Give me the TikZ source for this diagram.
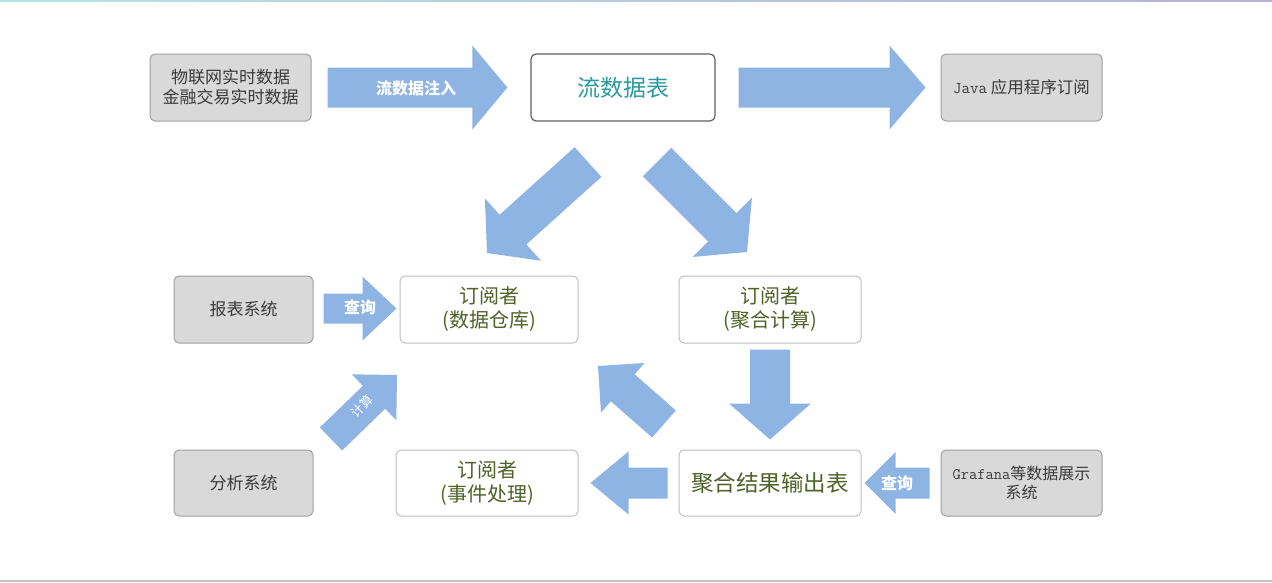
\documentclass[tikz,border=0pt]{standalone}
\usepackage{fontspec}
\setmainfont{Noto Sans CJK SC}
\usetikzlibrary{calc}
\definecolor{arrowblue}{HTML}{8EB4E3}
\definecolor{grayfill}{HTML}{D9D9D9}
\definecolor{grayline}{HTML}{A0A0A0}
\definecolor{lightline}{HTML}{BFBFBF}
\definecolor{darkline}{HTML}{606060}
\definecolor{graytext}{HTML}{3A3A3A}
\definecolor{tealtext}{HTML}{2A9A9E}
\definecolor{olivetext}{HTML}{4F6228}
\definecolor{topA}{HTML}{B2E6E4}
\definecolor{topB}{HTML}{B8B0D6}
\definecolor{bottomline}{HTML}{C4C4C4}
\newcommand\blockarr[5]{%
  \coordinate (#1b) at ($(#2)!#5!(#1)$);
  \fill[arrowblue] ($(#1)!#3!90:(#2)$) -- ($(#1b)!#3!90:(#2)$) -- ($(#1b)!#4!90:(#2)$) -- (#2)
    -- ($(#1b)!#4!-90:(#2)$) -- ($(#1b)!#3!-90:(#2)$) -- ($(#1)!#3!-90:(#2)$) -- cycle;}
\begin{document}
\begin{tikzpicture}[x=1pt,y=-1pt,
  graybox/.style={draw=grayline,line width=1pt,fill=grayfill,rounded corners=5pt,
    text=graytext,align=center,inner sep=0pt,font=\fontsize{17}{20}\selectfont},
  whitebox/.style={draw=lightline,line width=1pt,fill=white,rounded corners=5pt,
    text=olivetext,align=center,inner sep=0pt,font=\fontsize{20}{24}\selectfont},
  arrlabel/.style={text=white,font=\bfseries\fontsize{16}{19}\selectfont,inner sep=0pt}]
\useasboundingbox (0,0) rectangle (1272,582);
\shade[left color=topA,right color=topB] (0,0) rectangle (1272,1.5);
\fill[bottomline] (0,579.5) rectangle (1272,582);
% boxes
\node[graybox,minimum width=161pt,minimum height=67pt] (src) at (230.5,87.5) {物联网实时数据\\金融交易实时数据};
\node[whitebox,draw=darkline,line width=1.2pt,text=tealtext,minimum width=184pt,minimum height=67pt,font=\fontsize{23}{27}\selectfont] (stream) at (623,87.5) {流数据表};
\node[graybox,minimum width=161pt,minimum height=67pt,font=\fontsize{16.5}{20}\selectfont] (java) at (1021.5,87.5) {{\ttfamily Java} 应用程序订阅};
\node[graybox,minimum width=139pt,minimum height=67pt] (report) at (243.5,309.5) {报表系统};
\node[whitebox,minimum width=178pt,minimum height=67pt] (dw) at (489,309.5) {订阅者\\(数据仓库)};
\node[whitebox,minimum width=182pt,minimum height=67pt] (agg) at (770,309.5) {订阅者\\(聚合计算)};
\node[graybox,minimum width=139pt,minimum height=66pt] (analysis) at (243.5,483) {分析系统};
\node[whitebox,minimum width=182pt,minimum height=66pt] (event) at (487,483) {订阅者\\(事件处理)};
\node[whitebox,minimum width=182pt,minimum height=66pt,font=\fontsize{22.5}{26}\selectfont] (aggout) at (770,483) {聚合结果输出表};
\node[graybox,minimum width=161pt,minimum height=66pt,font=\fontsize{16}{19}\selectfont] (grafana) at (1021.5,483) {{\ttfamily Grafana}等数据展示\\系统};
% arrow anchors
\coordinate (aS) at ($(src.east)+(16,0)$);   \coordinate (aT) at ($(stream.west)+(-23,0)$);
\coordinate (bS) at ($(stream.east)+(23,0)$);\coordinate (bT) at ($(java.west)+(-15,0)$);
\coordinate (cS) at (588,162);  \coordinate (cT) at (487,253);
\coordinate (dS) at (657,162);  \coordinate (dT) at (747,252);
\coordinate (eS) at ($(report.east)+(10,-1)$); \coordinate (eT) at ($(dw.west)+(-3,-1)$);
\coordinate (fS) at (331,439);  \coordinate (fT) at (397,375);
\coordinate (gS) at (664,424);  \coordinate (gT) at (598,366);
\coordinate (hS) at ($(agg.south)+(0,6)$); \coordinate (hT) at ($(aggout.north)+(0,-10)$);
\coordinate (iS) at ($(aggout.west)+(-11,0)$); \coordinate (iT) at ($(event.east)+(12,0)$);
\coordinate (jS) at ($(grafana.west)+(-11,0)$); \coordinate (jT) at ($(aggout.east)+(3,0)$);
\blockarr{aS}{aT}{20pt}{42pt}{35pt}
\blockarr{bS}{bT}{20pt}{42pt}{36pt}
\blockarr{cS}{cT}{20pt}{42pt}{35pt}
\blockarr{dS}{dT}{20pt}{42pt}{35pt}
\blockarr{eS}{eT}{15pt}{32pt}{34pt}
\blockarr{fS}{fT}{16pt}{32pt}{32pt}
\blockarr{gS}{gT}{18pt}{33pt}{33pt}
\blockarr{hS}{hT}{20pt}{41pt}{36pt}
\blockarr{iS}{iT}{15.5pt}{31.5pt}{38pt}
\blockarr{jS}{jT}{15.5pt}{31pt}{31pt}
% labels
\node[arrlabel] (la) at (416,88) {流数据注入};
\node[arrlabel] (le) at (360,307) {查询};
\node[arrlabel,font=\fontsize{12.5}{14}\selectfont,rotate=45] (lf) at (362,406) {计算};
\node[arrlabel] (lj) at (897,483) {查询};
\end{tikzpicture}
\end{document}
